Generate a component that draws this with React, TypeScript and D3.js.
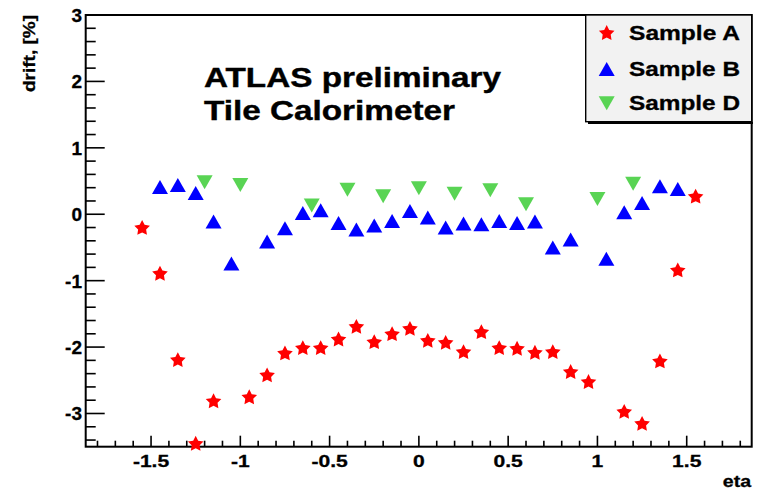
import React from "react";
import * as d3 from "d3";

const etaA = [-1.55,-1.45,-1.35,-1.25,-1.15,-0.95,-0.85,-0.75,-0.65,-0.55,-0.45,-0.35,-0.25,-0.15,-0.05,0.05,0.15,0.25,0.35,0.45,0.55,0.65,0.75,0.85,0.95,1.15,1.25,1.35,1.45,1.55];
const driftA = [-0.21,-0.90,-2.20,-3.46,-2.82,-2.76,-2.43,-2.10,-2.02,-2.02,-1.89,-1.70,-1.93,-1.81,-1.73,-1.91,-1.94,-2.08,-1.78,-2.02,-2.03,-2.09,-2.08,-2.38,-2.53,-2.98,-3.16,-2.22,-0.85,0.26];
const etaB = [-1.45,-1.35,-1.25,-1.15,-1.05,-0.85,-0.75,-0.65,-0.55,-0.45,-0.35,-0.25,-0.15,-0.05,0.05,0.15,0.25,0.35,0.45,0.55,0.65,0.75,0.85,1.05,1.15,1.25,1.35,1.45];
const driftB = [0.41,0.44,0.32,-0.11,-0.74,-0.41,-0.21,0.02,0.06,-0.13,-0.23,-0.17,-0.10,0.05,-0.05,-0.20,-0.14,-0.15,-0.10,-0.13,-0.11,-0.50,-0.38,-0.67,0.03,0.17,0.42,0.38];
const etaD = [-1.2,-1.0,-0.6,-0.4,-0.2,0,0.2,0.4,0.6,1.0,1.2];
const driftD = [0.48,0.44,0.13,0.37,0.27,0.39,0.31,0.36,0.15,0.23,0.46];

const xMajor = [-1.5,-1,-0.5,0,0.5,1,1.5];
const xTickLabels = ["-1.5","-1","-0.5","0","0.5","1","1.5"];
const yMajor = [-3,-2,-1,0,1,2,3];
const yTickLabels = ["-3","-2","-1","0","1","2","3"];
const legendLabels = ["Sample A","Sample B","Sample D"];
const colors = ["#ff0000","#0000ff","#59d454"];

const FONT = "'Liberation Sans', Arial, Helvetica, sans-serif";

const L = 85.7, R = 751.7, T = 15, B = 446.7;

function starPath(Ro: number, ri: number) {
  const pts: string[] = [];
  for (let i = 0; i < 10; i++) {
    const r = i % 2 === 0 ? Ro : ri;
    const a = -Math.PI / 2 + (i * Math.PI) / 5;
    pts.push(`${(r * Math.cos(a)).toFixed(2)},${(r * Math.sin(a)).toFixed(2)}`);
  }
  return "M" + pts.join("L") + "Z";
}
const STAR = starPath(8.2, 4.2);
const TRI_UP = "M0,-7L8,7L-8,7Z";
const TRI_DOWN = "M0,7L8,-7L-8,-7Z";
const shapes = [STAR, TRI_UP, TRI_DOWN];

export default function App() {
  const x = d3.scaleLinear().domain([-1.866, 1.864]).range([L, R]);
  const y = d3.scaleLinear().domain([-3.5, 3]).range([B, T]);

  const xMinor = d3.range(-18, 19).map((i) => i / 10);
  const yMinor = d3.range(-17, 16).map((i) => i / 5);

  const series = [
    { eta: etaA, v: driftA },
    { eta: etaB, v: driftB },
    { eta: etaD, v: driftD },
  ];

  return (
    <svg width={758} height={492} style={{ position: "absolute", left: 0, top: 0, background: "#fff" }} fontFamily={FONT}>
      <rect x={0} y={0} width={758} height={492} fill="#fff" />
      {/* ticks */}
      {xMinor.map((t, i) => {
        const major = Math.abs(t * 2 - Math.round(t * 2)) < 1e-6;
        return <line key={"xt" + i} x1={x(t)} x2={x(t)} y1={B} y2={B - (major ? 11 : 6)} stroke="#000" strokeWidth={1.6} />;
      })}
      {yMinor.map((t, i) => {
        const major = Math.abs(t - Math.round(t)) < 1e-6;
        return <line key={"yt" + i} x1={L} x2={L + (major ? 19 : 10)} y1={y(t)} y2={y(t)} stroke="#000" strokeWidth={1.6} />;
      })}
      {/* frame */}
      <rect x={L} y={T} width={R - L} height={B - T} fill="none" stroke="#000" strokeWidth={2} />
      {/* tick labels */}
      {xMajor.map((t, i) => (
        <g key={"xl" + i} transform={`translate(${x(t)},467) scale(1.24,1)`}>
          <text textAnchor="middle" fontSize={17} fontWeight="bold" stroke="#000" strokeWidth={0.3}>{xTickLabels[i]}</text>
        </g>
      ))}
      {yMajor.map((t, i) => (
        <g key={"yl" + i} transform={`translate(82,${y(t)})`}>
          <text textAnchor="end" dy="0.36em" fontSize={19} fontWeight="bold" stroke="#000" strokeWidth={0.3}>{yTickLabels[i]}</text>
        </g>
      ))}
      {/* axis titles */}
      <g transform="translate(751,487) scale(1.15,1)">
        <text textAnchor="end" fontSize={17} fontWeight="bold" stroke="#000" strokeWidth={0.3}>eta</text>
      </g>
      <g transform="translate(35,15) rotate(-90)">
        <text textAnchor="end" fontSize={17} fontWeight="bold" textLength={77} lengthAdjust="spacingAndGlyphs" stroke="#000" strokeWidth={0.3}>drift, [%]</text>
      </g>
      {/* annotation */}
      <text x={204} y={87} fontSize={27} fontWeight="bold" textLength={297} lengthAdjust="spacingAndGlyphs" stroke="#000" strokeWidth={0.4}>ATLAS preliminary</text>
      <text x={204} y={120} fontSize={27} fontWeight="bold" textLength={251} lengthAdjust="spacingAndGlyphs" stroke="#000" strokeWidth={0.4}>Tile Calorimeter</text>
      {/* data */}
      {series.map((s, si) => (
        <g key={"s" + si}>
          {s.eta.map((e, i) => (
            <path key={i} d={shapes[si]} transform={`translate(${x(e)},${y(s.v[i])})`} fill={colors[si]} />
          ))}
        </g>
      ))}
      {/* legend */}
      <line x1={588} x2={753} y1={123} y2={123} stroke="#000" strokeWidth={2} />
      <rect x={585.7} y={T} width={R - 585.7} height={106.7} fill="#f2f2f2" stroke="#000" strokeWidth={1.4} />
      {legendLabels.map((lab, i) => {
        const cy = [33.3, 69, 103.3][i];
        return (
          <g key={"lg" + i}>
            <path d={shapes[i]} transform={`translate(606.7,${cy})`} fill={colors[i]} />
            <text x={629} y={cy + 6.8} fontSize={21} fontWeight="bold" textLength={111} lengthAdjust="spacingAndGlyphs" stroke="#000" strokeWidth={0.3}>{lab}</text>
          </g>
        );
      })}
    </svg>
  );
}
